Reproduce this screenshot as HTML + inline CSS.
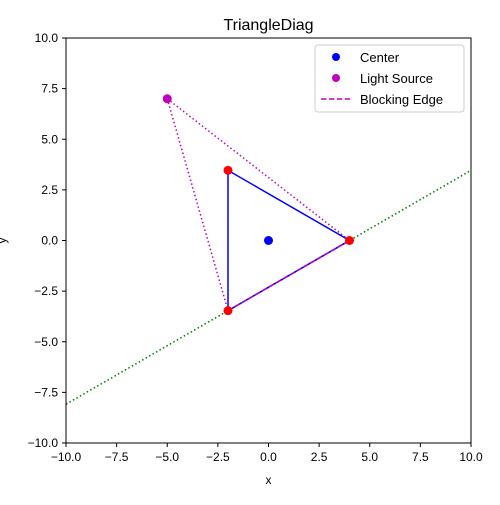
<!DOCTYPE html>
<html><head><meta charset="utf-8"><style>body{margin:0;background:#fff}svg{font-family:"Liberation Sans",sans-serif}</style></head>
<body>
<svg id="chart" width="500" height="500" xmlns="http://www.w3.org/2000/svg">
<rect width="500" height="500" fill="#fff"/>
<text x="268.5" y="30" font-size="16" text-anchor="middle">TriangleDiag</text>
<g id="plot"></g>
<rect x="66" y="38" width="405" height="405" fill="none" stroke="#000" stroke-width="1"/>
<g id="ticks" font-size="12"></g>
<text x="268.5" y="484" font-size="12" text-anchor="middle">x</text>
<text x="6" y="240.5" font-size="12" text-anchor="middle" transform="rotate(-90 6 240.5)">y</text>
<g>
<rect x="315" y="45" width="149" height="67" fill="#fff" fill-opacity="0.8" stroke="#ccc" rx="3"/>
<circle cx="336" cy="57" r="4" fill="#0000ff"/>
<text x="360" y="62" font-size="13">Center</text>
<circle cx="336" cy="78" r="4" fill="#bf00bf"/>
<text x="360" y="83" font-size="13">Light Source</text>
<line x1="321" y1="99" x2="351" y2="99" stroke="#bf00bf" stroke-width="1.5" stroke-dasharray="5.5,2.4"/>
<text x="360" y="104" font-size="13">Blocking Edge</text>
</g>
</svg>
<script>
const xTicks=[-10,-7.5,-5,-2.5,0,2.5,5,7.5,10];
const yTicks=[-10,-7.5,-5,-2.5,0,2.5,5,7.5,10];
const triX=[-2,4,-2];
const triY=[3.464,0,-3.464];
const center=[0,0];
const light=[-5,7];
const edgeA=[-2,-3.464];
const edgeB=[4,0];
const X=v=>66+(v+10)*405/20, Y=v=>443-(v+10)*405/20;
const fmt=t=>t.toFixed(1).replace('-','\u2212');
const NS="http://www.w3.org/2000/svg";
const plot=document.getElementById('plot'), tk=document.getElementById('ticks');
function mk(p,tag,a){const e=document.createElementNS(NS,tag);for(const k in a)e.setAttribute(k,a[k]);p.appendChild(e);return e;}
xTicks.forEach(t=>{const l=mk(tk,'line',{x1:X(t),x2:X(t),y1:443,y2:447,stroke:'#000'});


const s=mk(tk,'text',{x:X(t),y:461,'text-anchor':'middle'});s.textContent=fmt(t);

});
yTicks.forEach(t=>{const l=mk(tk,'line',{x1:62,x2:66,y1:Y(t),y2:Y(t),stroke:'#000'});


const s=mk(tk,'text',{x:58,y:Y(t)+4,'text-anchor':'end'});s.textContent=fmt(t);

});
const slope=(edgeB[1]-edgeA[1])/(edgeB[0]-edgeA[0]);
const g=mk(plot,'line',{x1:X(-10),y1:Y(edgeA[1]+slope*(-10-edgeA[0])),x2:X(10),y2:Y(edgeA[1]+slope*(10-edgeA[0])),stroke:'#008000','stroke-width':1.5,'stroke-dasharray':'1.5,2.5'});


[edgeA,edgeB].forEach(p=>{const r=mk(plot,'line',{x1:X(light[0]),y1:Y(light[1]),x2:X(p[0]),y2:Y(p[1]),stroke:'#bf00bf','stroke-width':1.5,'stroke-dasharray':'1.5,2.5'});

});
const pts=triX.map((x,i)=>X(x)+','+Y(triY[i])).join(' ');
const tri=mk(plot,'polygon',{points:pts,fill:'none',stroke:'#0000ff','stroke-width':1.5});


const be=mk(plot,'line',{x1:X(edgeA[0]),y1:Y(edgeA[1]),x2:X(edgeB[0]),y2:Y(edgeB[1]),stroke:'#bf00bf','stroke-width':1.5,'stroke-dasharray':'5.5,2.4'});


triX.forEach((x,i)=>{const c=mk(plot,'circle',{cx:X(x),cy:Y(triY[i]),r:4.5,fill:'#ff0000'});

});
const cc=mk(plot,'circle',{cx:X(center[0]),cy:Y(center[1]),r:4.5,fill:'#0000ff'});


const lc=mk(plot,'circle',{cx:X(light[0]),cy:Y(light[1]),r:4.5,fill:'#bf00bf'});


</script>
</body></html>
